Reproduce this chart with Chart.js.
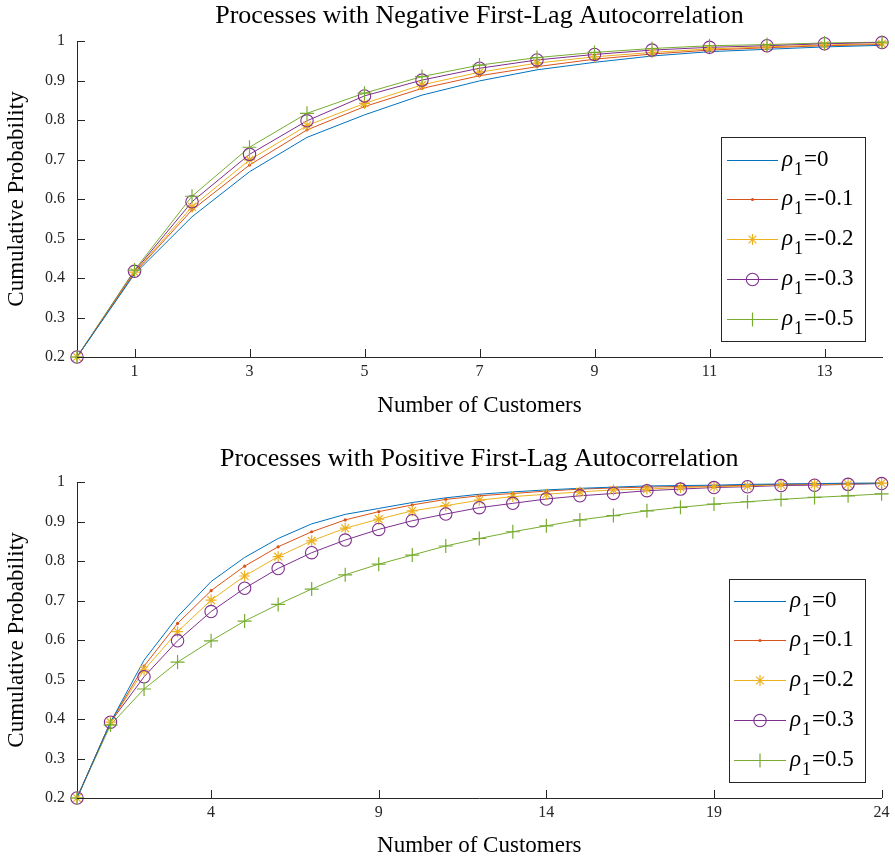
<!DOCTYPE html>
<html><head><meta charset="utf-8">
<script src="https://cdn.jsdelivr.net/npm/chart.js@4/dist/chart.umd.min.js"></script>
<style>
body{margin:0;background:#fff;}
.w{position:absolute;left:0;width:895px;height:430px;}
</style>
</head><body>
<div class="w" style="top:0"><canvas id="c1" width="895" height="430"></canvas></div>
<div class="w" style="top:430px"><canvas id="c2" width="895" height="430"></canvas></div>
<script>
// ---------- DATA ----------
const xTop = [0,1,2,3,4,5,6,7,8,9,10,11,12,13,14];
const xBottom = [0,1,2,3,4,5,6,7,8,9,10,11,12,13,14,15,16,17,18,19,20,21,22,23,24];
const xTicksTop = [1,3,5,7,9,11,13];
const xTicksBottom = [4,9,14,19,24];
const negLabels = ['0','-0.1','-0.2','-0.3','-0.5'];
const posLabels = ['0','0.1','0.2','0.3','0.5'];

const neg_rho0   = [0.2,0.41,0.555,0.669,0.756,0.813,0.863,0.899,0.927,0.946,0.962,0.973,0.979,0.985,0.989];
const neg_rhoM01 = [0.2,0.413,0.572,0.686,0.775,0.834,0.88,0.912,0.935,0.954,0.967,0.977,0.983,0.988,0.991];
const neg_rhoM02 = [0.2,0.415,0.58,0.699,0.786,0.842,0.889,0.921,0.944,0.96,0.971,0.98,0.985,0.99,0.993];
const neg_rhoM03 = [0.2,0.417,0.593,0.713,0.798,0.861,0.901,0.931,0.952,0.966,0.977,0.984,0.988,0.993,0.996];
const neg_rhoM05 = [0.2,0.42,0.607,0.731,0.817,0.868,0.91,0.939,0.958,0.971,0.981,0.988,0.991,0.995,0.997];

const pos_rho0  = [0.2,0.392,0.549,0.659,0.748,0.809,0.857,0.894,0.918,0.933,0.948,0.96,0.969,0.975,0.98,0.984,0.987,0.99,0.991,0.992,0.994,0.995,0.996,0.997,0.997];
const pos_rho01 = [0.2,0.392,0.534,0.642,0.725,0.787,0.836,0.874,0.904,0.925,0.942,0.956,0.965,0.971,0.977,0.982,0.985,0.987,0.989,0.99,0.992,0.994,0.995,0.996,0.997];
const pos_rho02 = [0.2,0.392,0.524,0.621,0.701,0.762,0.811,0.851,0.883,0.906,0.927,0.94,0.954,0.963,0.969,0.975,0.98,0.982,0.986,0.988,0.99,0.993,0.994,0.995,0.997];
const pos_rho03 = [0.2,0.392,0.507,0.598,0.672,0.731,0.781,0.821,0.853,0.88,0.902,0.919,0.935,0.946,0.957,0.965,0.971,0.978,0.982,0.986,0.988,0.991,0.992,0.994,0.996];
const pos_rho05 = [0.2,0.385,0.476,0.544,0.598,0.648,0.69,0.729,0.765,0.792,0.815,0.838,0.857,0.874,0.889,0.904,0.915,0.927,0.936,0.944,0.95,0.956,0.961,0.965,0.97];

// ---------- STYLES ----------
const SERIF = '"Liberation Serif", "Times New Roman", serif';
const AX = '#262626';
const styles = [
  {color:'#0072BD', marker:null, r:0},
  {color:'#D95319', marker:'dot', r:1.6},
  {color:'#EDB120', marker:'star', r:5.5},
  {color:'#7E2F8E', marker:'circle', r:6.2},
  {color:'#77AC30', marker:'cross', r:7}
];

function drawMarker(ctx, type, x, y, r, color){
  if(!type) return;
  ctx.save();
  ctx.strokeStyle = color; ctx.fillStyle = color; ctx.lineWidth = 1;
  ctx.beginPath();
  if(type==='dot'){ ctx.arc(x,y,r,0,Math.PI*2); ctx.fill(); }
  else if(type==='circle'){ ctx.lineWidth = 1.1; ctx.arc(x,y,r,0,Math.PI*2); ctx.stroke(); }
  else if(type==='cross'){ ctx.lineWidth = 1.2; ctx.moveTo(x-r,y); ctx.lineTo(x+r,y); ctx.moveTo(x,y-r); ctx.lineTo(x,y+r); ctx.stroke(); }
  else if(type==='star'){
    ctx.lineWidth = 1.2;
    for(let k=0;k<4;k++){ const a=k*Math.PI/4; ctx.moveTo(x-Math.cos(a)*r,y-Math.sin(a)*r); ctx.lineTo(x+Math.cos(a)*r,y+Math.sin(a)*r); }
    ctx.stroke();
  }
  ctx.restore();
}

const markerPlugin = {
  id:'mlMarkers',
  afterDatasetsDraw(chart){
    const ctx = chart.ctx;
    chart.data.datasets.forEach((ds,i)=>{
      const st = styles[i];
      if(!st.marker) return;
      const meta = chart.getDatasetMeta(i);
      meta.data.forEach(pt=>drawMarker(ctx, st.marker, pt.x, pt.y, st.r, st.color));
    });
  }
};

const tickPlugin = {
  id:'inTicks',
  afterDraw(chart){
    const ctx = chart.ctx, ca = chart.chartArea, xs = chart.scales.x, ys = chart.scales.y;
    ctx.save(); ctx.strokeStyle = AX; ctx.lineWidth = 1; ctx.beginPath();
    xs.ticks.forEach(t=>{ const p=Math.round(xs.getPixelForValue(t.value))+0.5; ctx.moveTo(p,ca.bottom); ctx.lineTo(p,ca.bottom-8); });
    ys.ticks.forEach(t=>{ const p=Math.round(ys.getPixelForValue(t.value))+0.5; ctx.moveTo(ca.left,p); ctx.lineTo(ca.left+8,p); });
    ctx.stroke(); ctx.restore();
  }
};

const legendPlugin = {
  id:'boxLegend',
  afterDraw(chart, args, o){
    const ctx = chart.ctx;
    ctx.save();
    ctx.fillStyle='#fff';
    ctx.fillRect(o.left,o.top,o.right-o.left,o.bottom-o.top);
    ctx.strokeStyle=AX; ctx.lineWidth=1;
    ctx.strokeRect(o.left+0.5,o.top+0.5,o.right-o.left,o.bottom-o.top);
    o.labels.forEach((lab,i)=>{
      const y = o.rows[i], st = styles[i];
      ctx.strokeStyle = st.color; ctx.lineWidth=1;
      ctx.beginPath(); ctx.moveTo(o.x0,y+0.5); ctx.lineTo(o.x1,y+0.5); ctx.stroke();
      drawMarker(ctx, st.marker, (o.x0+o.x1)/2, y+0.5, st.r, st.color);
      ctx.fillStyle='#000'; ctx.textBaseline='alphabetic'; ctx.textAlign='left';
      let x = o.tx;
      ctx.font = 'italic 23px '+SERIF; ctx.fillText('\u03C1', x, y+6); x += ctx.measureText('\u03C1').width+1;
      ctx.font = '18px '+SERIF; ctx.fillText('1', x, y+15); x += ctx.measureText('1').width+1;
      ctx.font = '23px '+SERIF; ctx.fillText('='+lab, x, y+6);
    });
    ctx.restore();
  }
};

function fmtY(v){ const r=Math.round(v*10)/10; return r===1?'1':r.toFixed(1); }

function makeChart(id, xs, series, labels, ticksX, xmax, L){
  const datasets = series.map((s,i)=>({
    label: labels[i],
    data: xs.map((x,j)=>({x:x,y:s[j]})),
    borderColor: styles[i].color,
    backgroundColor: styles[i].color,
    borderWidth: 1,
    pointRadius: 0,
    tension: 0,
    clip: false
  }));
  return new Chart(document.getElementById(id), {
    type:'line',
    data:{datasets},
    plugins:[markerPlugin, tickPlugin, legendPlugin],
    options:{
      responsive:false, animation:false, devicePixelRatio:1,
      layout:{padding:{left:0,right:13,top:0,bottom:0}},
      plugins:{
        legend:{display:false}, tooltip:{enabled:false},
        title:{display:true, fullSize:false, text:L.title, color:'#000', font:{family:SERIF,size:26,weight:'normal'}, padding:{top:L.tpt,bottom:L.tpb}},
        boxLegend: L.legend
      },
      scales:{
        x:{type:'linear', min:0, max:xmax,
          grid:{display:false, drawTicks:false},
          border:{display:true,color:AX,width:1},
          ticks:{color:AX, font:{family:SERIF,size:16}, padding:5.4, maxRotation:0, autoSkip:false},
          afterBuildTicks:(sc)=>{ sc.ticks = ticksX.map(v=>({value:v})); },
          afterFit:(sc)=>{ sc.height = L.xh; },
          title:{display:true, text:'Number of Customers', color:'#000', font:{family:SERIF,size:23}, padding:{top:0,bottom:L.xpb}}
        },
        y:{type:'linear', min:0.2, max:1,
          grid:{display:false, drawTicks:false},
          border:{display:true,color:AX,width:1},
          ticks:{stepSize:0.1, color:AX, font:{family:SERIF,size:16}, padding:12, callback:(v)=>fmtY(v)},
          afterFit:(sc)=>{ sc.width = 77; },
          title:{display:true, text:'Cumulative Probability', color:'#000', font:{family:SERIF,size:23}, padding:{top:3.2,bottom:0}}
        }
      }
    }
  });
}

makeChart('c1', xTop, [neg_rho0,neg_rhoM01,neg_rhoM02,neg_rhoM03,neg_rhoM05], negLabels, xTicksTop, 14, {
  title:'Processes with Negative First-Lag Autocorrelation', tpt:0.4, tpb:9.4, xh:73, xpb:10.2,
  legend:{left:721,top:137,right:865,bottom:341,x0:727,x1:778,tx:782,rows:[160,199,239,279,319],labels:negLabels}
});
makeChart('c2', xBottom, [pos_rho0,pos_rho01,pos_rho02,pos_rho03,pos_rho05], posLabels, xTicksBottom, 24, {
  title:'Processes with Positive First-Lag Autocorrelation', tpt:13.4, tpb:7.4, xh:62, xpb:0,
  legend:{left:729,top:149,right:865,bottom:352,x0:734,x1:786,tx:790,rows:[171,210,250,290,330],labels:posLabels}
});
</script>
</body></html>
